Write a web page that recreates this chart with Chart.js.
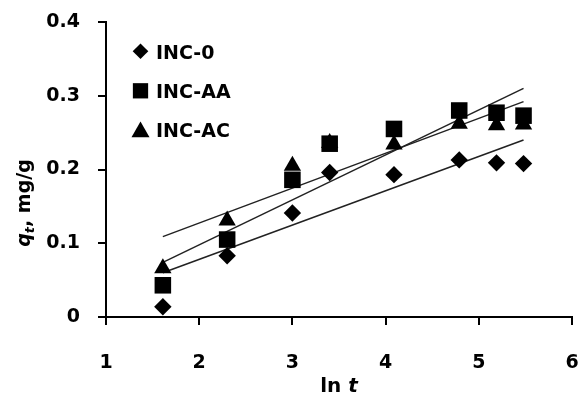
<!DOCTYPE html>
<html><head><meta charset="utf-8">
<script src="https://cdn.jsdelivr.net/npm/chart.js@4/dist/chart.umd.min.js"></script>
<style>html,body{margin:0;padding:0;background:#fff}</style>
</head><body>
<canvas id="c" width="578" height="398"></canvas>
<script>
// ---- data ----
const lnT   = [1.61, 2.30, 3.00, 3.40, 4.09, 4.79, 5.19, 5.48];
const inc0  = [0.014, 0.083, 0.141, 0.196, 0.193, 0.213, 0.209, 0.208];
const incAA = [0.043, 0.105, 0.186, 0.235, 0.255, 0.280, 0.277, 0.273];
const incAC = [0.066, 0.131, 0.205, 0.236, 0.234, 0.262, 0.260, 0.261];
const fitX   = [1.61, 5.48];
const fit0   = [0.060, 0.240];
const fitAA  = [0.074, 0.310];
const fitAC  = [0.109, 0.292];
const seriesNames = ['INC-0', 'INC-AA', 'INC-AC'];
const xTicks = [1, 2, 3, 4, 5, 6];
const yTicks = [0, 0.1, 0.2, 0.3, 0.4];

const FONT = "'DejaVu Sans', sans-serif";
const pts = (xs, ys) => xs.map((x, i) => ({x, y: ys[i]}));

const fitStyle = {type: 'line', borderColor: '#222', borderWidth: 1.5, pointRadius: 0, fill: false, showLine: true};

const markers = [
  {style: 'rectRot', r: 8.7, lr: 7.8},
  {style: 'rect', r: 11.7, lr: 10.8},
  {style: 'triangle', r: 10, lr: 10.4}
];

function drawMarker(ctx, style, x, y, r) {
  ctx.beginPath();
  if (style === 'rectRot') {
    ctx.moveTo(x, y - r); ctx.lineTo(x + r, y); ctx.lineTo(x, y + r); ctx.lineTo(x - r, y);
  } else if (style === 'rect') {
    const h = r * Math.SQRT1_2; ctx.rect(x - h, y - h, 2 * h, 2 * h);
  } else {
    ctx.moveTo(x, y - r);
    ctx.lineTo(x + r * Math.sin(2 * Math.PI / 3), y - r * Math.cos(2 * Math.PI / 3));
    ctx.lineTo(x + r * Math.sin(4 * Math.PI / 3), y - r * Math.cos(4 * Math.PI / 3));
  }
  ctx.closePath(); ctx.fillStyle = '#000'; ctx.fill();
}

const decor = {
  id: 'decor',
  afterDraw(chart) {
    const ctx = chart.ctx;
    const area = chart.chartArea;
    ctx.save();
    // legend inside plot area
    const legY = [59, 98, 137];
    const legMY = [51.3, 90.8, 132];
    seriesNames.forEach((n, i) => {
      drawMarker(ctx, markers[i].style, 140.5, legMY[i], markers[i].lr);
      ctx.fillStyle = '#000';
      ctx.font = 'bold 19px ' + FONT;
      ctx.textAlign = 'left'; ctx.textBaseline = 'alphabetic';
      ctx.fillText(n, 156, legY[i]);
    });
    // x title: ln t
    const p1 = 'ln ', p2 = 't';
    ctx.font = 'bold 20px ' + FONT; const w1 = ctx.measureText(p1).width;
    ctx.font = 'italic bold 20px ' + FONT; const w2 = ctx.measureText(p2).width;
    let sx = (area.left + area.right) / 2 - (w1 + w2) / 2;
    ctx.textAlign = 'left'; ctx.textBaseline = 'alphabetic';
    ctx.font = 'bold 20px ' + FONT; ctx.fillText(p1, sx, 392);
    ctx.font = 'italic bold 20px ' + FONT; ctx.fillText(p2, sx + w1, 392);
    // y title: q_t, mg/g
    const parts = [
      {t: 'q', f: 'italic bold 19px ' + FONT, dy: 0},
      {t: 't', f: 'italic bold 13px ' + FONT, dy: 4},
      {t: ', mg/g', f: 'bold 19px ' + FONT, dy: 0}
    ];
    let tw = 0;
    parts.forEach(p => { ctx.font = p.f; p.w = ctx.measureText(p.t).width; tw += p.w; });
    ctx.translate(30, 203); ctx.rotate(-Math.PI / 2);
    let lx = -tw / 2;
    parts.forEach(p => { ctx.font = p.f; ctx.fillText(p.t, lx, p.dy); lx += p.w; });
    ctx.restore();
  }
};

new Chart(document.getElementById('c'), {
  type: 'scatter',
  data: {
    datasets: [
      {label: seriesNames[0], data: pts(lnT, inc0), pointStyle: markers[0].style, pointRadius: markers[0].r, backgroundColor: '#000', borderColor: '#000', borderWidth: 0, showLine: false},
      {label: seriesNames[1], data: pts(lnT, incAA), pointStyle: markers[1].style, pointRadius: markers[1].r, backgroundColor: '#000', borderColor: '#000', borderWidth: 0, showLine: false},
      {label: seriesNames[2], data: pts(lnT, incAC), pointStyle: markers[2].style, pointRadius: markers[2].r, backgroundColor: '#000', borderColor: '#000', borderWidth: 0, showLine: false},
      Object.assign({label: 'fit INC-0', data: pts(fitX, fit0)}, fitStyle),
      Object.assign({label: 'fit INC-AA', data: pts(fitX, fitAA)}, fitStyle),
      Object.assign({label: 'fit INC-AC', data: pts(fitX, fitAC)}, fitStyle)
    ]
  },
  options: {
    responsive: false,
    animation: false,
    layout: {autoPadding: false, padding: {top: 22, right: 6, left: 0, bottom: 0}},
    plugins: {legend: {display: false}, tooltip: {enabled: false}},
    scales: {
      x: {
        type: 'linear', min: xTicks[0], max: xTicks[xTicks.length - 1],
        afterBuildTicks: s => { s.ticks = xTicks.map(v => ({value: v})); },
        afterFit: s => { s.height = 81; s.paddingLeft = 0; s.paddingRight = 0; },
        border: {display: true, color: '#000', width: 2},
        grid: {display: true, drawOnChartArea: false, drawTicks: true, tickLength: 8, color: '#000', lineWidth: 2},
        ticks: {color: '#000', font: {family: FONT, size: 19, weight: 'bold'}, padding: 27, maxRotation: 0}
      },
      y: {
        type: 'linear', min: yTicks[0], max: yTicks[yTicks.length - 1],
        afterBuildTicks: s => { s.ticks = yTicks.map(v => ({value: v})); },
        afterFit: s => { s.width = 106; s.paddingTop = 0; s.paddingBottom = 0; },
        border: {display: true, color: '#000', width: 2},
        grid: {display: true, drawOnChartArea: false, drawTicks: true, tickLength: 8, color: '#000', lineWidth: 2},
        ticks: {color: '#000', font: {family: FONT, size: 19, weight: 'bold'}, padding: 18,
          callback: v => String(Math.round(v * 10) / 10)}
      }
    }
  },
  plugins: [decor]
});
</script>
</body></html>
